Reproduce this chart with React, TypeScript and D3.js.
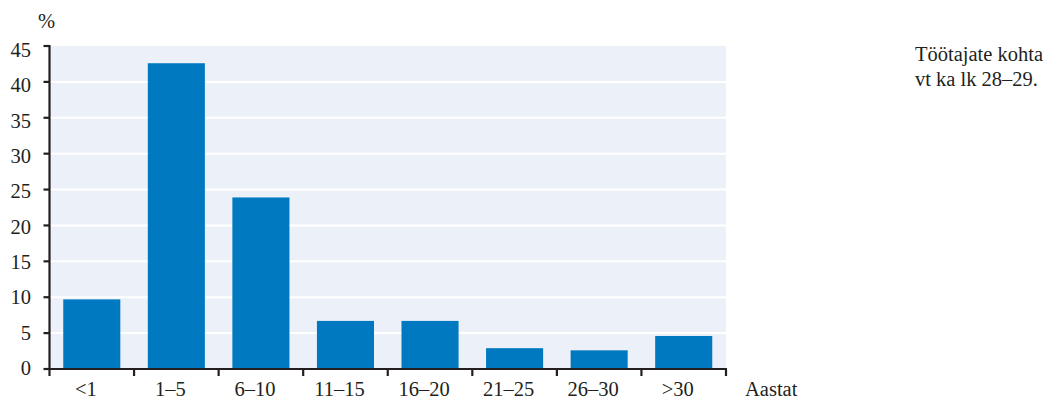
import React from "react";
import * as d3 from "d3";

const categories = ["<1", "1–5", "6–10", "11–15", "16–20", "21–25", "26–30", ">30"];
const values = [9.7, 42.6, 23.9, 6.7, 6.7, 2.9, 2.6, 4.6];
const yTicks = [0, 5, 10, 15, 20, 25, 30, 35, 40, 45];

export default function App() {
  const W = 1046, H = 401;
  const left = 49.5, right = 726, top = 46, bottom = 369;
  const x = d3.scaleBand<string>().domain(categories).range([left, right]).padding(0);
  const y = d3.scaleLinear().domain([0, 45]).range([bottom, top]);
  // tick label baselines drift slightly relative to the ticks in the original
  const yLab = d3.scaleLinear().domain([0, 45]).range([375, 57]);
  const step = x.step();
  const bw = step * 0.675;
  const font = "'Liberation Serif', serif";
  const ink = "#231f20";
  const fs = 20.5;
  return (
    <svg width={W} height={H} style={{ position: "absolute", left: 0, top: 0, fontFamily: font }}>
      <rect x={left} y={top} width={right - left} height={bottom - top} fill="#ecf0f8" />
      {yTicks.filter(t => t > 0 && t < 45).map(t => (
        <line key={t} x1={left} x2={right} y1={y(t)} y2={y(t)} stroke="#ffffff" strokeWidth={2} />
      ))}
      {categories.map((c, i) => (
        <rect key={c} x={(x(c) as number) + (step - bw) / 2} y={y(values[i])} width={bw} height={y(0) - y(values[i])} fill="#0079c1" />
      ))}
      <line x1={left} x2={left} y1={top - 1} y2={bottom + 1} stroke={ink} strokeWidth={2.2} />
      <line x1={left - 1} x2={right + 1} y1={bottom} y2={bottom} stroke={ink} strokeWidth={2.2} />
      {yTicks.map(t => (
        <g key={t}>
          <line x1={left - 6} x2={left} y1={y(t)} y2={y(t)} stroke={ink} strokeWidth={2.2} />
          <text x={31} y={yLab(t)} textAnchor="end" fontSize={fs} fill={ink}>{t}</text>
        </g>
      ))}
      {categories.map(c => (
        <line key={"t" + c} x1={x(c) as number} x2={x(c) as number} y1={bottom} y2={bottom + 7} stroke={ink} strokeWidth={2.2} />
      ))}
      <line x1={right} x2={right} y1={bottom} y2={bottom + 7} stroke={ink} strokeWidth={2.2} />
      {categories.map(c => (
        <text key={"l" + c} x={(x(c) as number) + step / 2 - 6} y={396} textAnchor="middle" fontSize={fs} fill={ink}>{c}</text>
      ))}
      <text x={38} y={28} fontSize={fs} fill={ink}>%</text>
      <text x={745} y={396} fontSize={fs} fill={ink}>Aastat</text>
      <text x={915} y={61} fontSize={fs} fill={ink}>Töötajate kohta</text>
      <text x={915} y={86} fontSize={fs} fill={ink}>vt ka lk 28–29.</text>
    </svg>
  );
}
